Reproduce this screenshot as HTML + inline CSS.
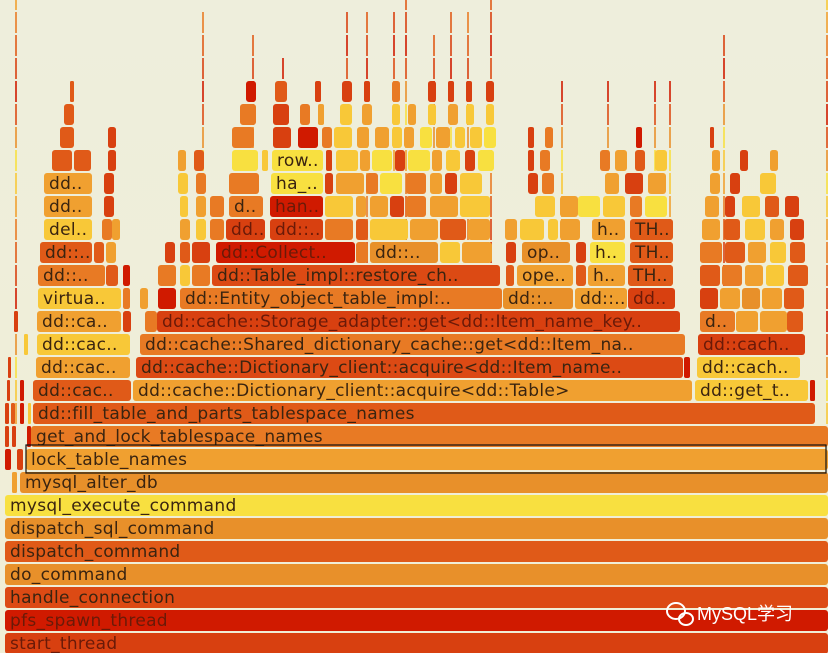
<!DOCTYPE html>
<html><head><meta charset="utf-8">
<style>
html,body{margin:0;padding:0;background:#eeeedd;}
svg{display:block;}
text{font-family:"DejaVu Sans","Liberation Sans",sans-serif;}
</style></head>
<body>
<svg id="fg" width="828" height="653" viewBox="0 0 828 653" xmlns="http://www.w3.org/2000/svg">
<defs><linearGradient id="bg" x1="0" y1="0" x2="0" y2="1"><stop offset="0" stop-color="#eeeedc"/><stop offset="1" stop-color="#f0eed6"/></linearGradient></defs>
<rect x="0" y="0" width="828" height="653" fill="url(#bg)"/>
<g id="frames"></g>
<g>
<ellipse cx="676" cy="611" rx="9" ry="8" fill="none" stroke="#fff" stroke-width="2"/>
<ellipse cx="686" cy="619" rx="7" ry="6" fill="none" stroke="#fff" stroke-width="2"/>
<text x="697" y="620" font-size="18" fill="#fff" style="font-family:'Liberation Sans','Noto Sans CJK SC',sans-serif">MySQL学习</text>
</g>
</svg>
<script>
// palette
const colors = ["#d01a00","#d84010","#e05a18","#e87a24","#f0a030","#f8c838","#f8e040","#e8902a","#dc4a14"];
// frames: [row, x, width, colorIdx, label]
const labeled = [
 [0,5,823,1,"start_thread"],
 [1,5,823,0,"pfs_spawn_thread"],
 [2,5,823,8,"handle_connection"],
 [3,5,823,7,"do_command"],
 [4,5,823,2,"dispatch_command"],
 [5,5,823,7,"dispatch_sql_command"],
 [6,5,823,6,"mysql_execute_command"],
 [7,12,5,4,""],[7,20,808,7,"mysql_alter_db"],
 [8,5,6,0,""],[8,17,6,1,""],[8,26,802,4,"lock_table_names"],
 [9,5,4,1,""],[9,12,4,1,""],[9,27,4,0,""],[9,31,797,3,"get_and_lock_tablespace_names"],
 [10,5,4,1,""],[10,11,4,2,""],[10,20,4,0,""],[10,28,3,5,""],[10,33,782,2,"dd::fill_table_and_parts_tablespace_names"],
 [11,7,3,1,""],[11,20,4,0,""],[11,33,98,2,"dd::cac.."],[11,133,559,4,"dd::cache::Dictionary_client::acquire<dd::Table>"],[11,695,113,5,"dd::get_t.."],[11,810,5,0,""],
 [12,8,3,1,""],[12,36,94,4,"dd::cac.."],[12,136,547,8,"dd::cache::Dictionary_client::acquire<dd::Item_name.."],[12,684,6,0,""],[12,697,103,5,"dd::cach.."],
 [13,24,4,5,""],[13,37,93,5,"dd::cac.."],[13,140,545,3,"dd::cache::Shared_dictionary_cache::get<dd::Item_na.."],[13,698,107,1,"dd::cach.."],
 [14,14,4,1,""],[14,37,84,4,"dd::ca.."],[14,123,8,1,""],[14,145,12,3,""],[14,157,523,1,"dd::cache::Storage_adapter::get<dd::Item_name_key.."],[14,700,35,3,"d.."],[14,736,22,4,""],[14,760,27,4,""],[14,787,16,2,""],
 [15,38,83,5,"virtua.."],[15,123,7,3,""],[15,140,8,4,""],[15,158,18,0,""],[15,180,322,3,"dd::Entity_object_table_impl:.."],[15,503,70,7,"dd::.."],[15,575,52,4,"dd::.."],[15,628,47,1,"dd.."],[15,700,18,1,""],[15,720,20,4,""],[15,742,18,7,""],[15,762,20,4,""],[15,784,20,2,""],
 [16,38,67,3,"dd::.."],[16,106,12,2,""],[16,123,7,0,""],[16,158,18,3,""],[16,180,10,5,""],[16,192,18,3,""],[16,212,288,8,"dd::Table_impl::restore_ch.."],[16,506,8,2,""],[16,517,56,4,"ope.."],[16,576,10,2,""],[16,588,37,4,"h.."],[16,628,45,2,"TH.."],[16,700,20,2,""],[16,722,20,3,""],[16,745,18,4,""],[16,766,18,5,""],[16,788,20,2,""],
 [17,40,52,2,"dd::.."],[17,94,10,2,""],[17,106,10,4,""],[17,165,10,1,""],[17,180,10,2,""],[17,192,18,1,""],[17,216,139,0,"dd::Collect.."],[17,356,12,3,""],[17,370,68,7,"dd::.."],[17,440,20,5,""],[17,462,30,4,""],[17,506,10,1,""],[17,522,48,7,"op.."],[17,576,10,1,""],[17,590,35,6,"h.."],[17,630,43,2,"TH.."],[17,700,22,3,""],[17,725,20,2,""],[17,748,18,4,""],[17,770,16,5,""],[17,790,15,2,""],
 [18,44,48,5,"del.."],[18,102,10,3,""],[18,112,8,4,""],[18,180,10,4,""],[18,196,10,5,""],[18,210,14,3,""],[18,226,39,1,"dd.."],[18,270,53,1,"dd::.."],[18,325,28,3,""],[18,356,12,2,""],[18,370,38,5,""],[18,410,28,4,""],[18,440,26,2,""],[18,468,22,4,""],[18,505,12,4,""],[18,520,24,5,""],[18,548,10,5,""],[18,560,20,4,""],[18,592,33,4,"h.."],[18,630,43,2,"TH.."],[18,702,18,4,""],[18,724,16,2,""],[18,745,20,5,""],[18,770,14,4,""],[18,790,14,1,""],
 [19,44,48,4,"dd.."],[19,104,10,1,""],[19,180,8,5,""],[19,196,10,4,""],[19,210,14,3,""],[19,229,34,3,"d.."],[19,270,53,0,"han.."],[19,325,28,5,""],[19,356,10,4,""],[19,370,18,4,""],[19,390,14,1,""],[19,406,20,3,""],[19,430,28,4,""],[19,460,30,5,""],[19,535,20,5,""],[19,560,18,4,""],[19,578,22,6,""],[19,603,22,5,""],[19,630,12,3,""],[19,645,22,6,""],[19,705,14,4,""],[19,725,10,1,""],[19,742,18,5,""],[19,765,14,2,""],[19,785,14,1,""],
 [20,44,48,4,"dd.."],[20,104,10,1,""],[20,178,10,5,""],[20,196,10,3,""],[20,229,30,3,""],[20,271,52,6,"ha_.."],[20,325,8,1,""],[20,336,28,4,""],[20,366,12,3,""],[20,380,22,6,""],[20,406,20,3,""],[20,430,12,4,""],[20,445,12,1,""],[20,460,22,5,""],[20,528,10,1,""],[20,542,12,3,""],[20,605,14,4,""],[20,625,18,1,""],[20,648,18,4,""],[20,710,10,4,""],[20,730,10,1,""],[20,760,16,5,""],
 [21,52,20,2,""],[21,74,17,2,""],[21,108,8,1,""],[21,178,8,4,""],[21,194,10,2,""],[21,232,26,6,""],[21,262,6,5,""],[21,272,51,6,"row.."],[21,326,6,1,""],[21,336,22,5,""],[21,360,10,4,""],[21,372,20,6,""],[21,395,10,1,""],[21,408,22,6,""],[21,432,10,4,""],[21,446,14,5,""],[21,465,10,1,""],[21,478,16,6,""],[21,528,6,1,""],[21,540,10,3,""],[21,600,10,3,""],[21,615,12,4,""],[21,635,10,2,""],[21,655,12,5,""],[21,712,8,4,""],[21,740,8,1,""],[21,770,8,4,""],
 [22,60,14,2,""],[22,108,8,1,""],[22,232,22,3,""],[22,273,18,1,""],[22,298,20,0,""],[22,322,10,3,""],[22,334,18,5,""],[22,357,12,4,""],[22,375,14,4,""],[22,392,10,5,""],[22,404,10,4,""],[22,420,12,6,""],[22,436,14,4,""],[22,455,10,5,""],[22,470,12,5,""],[22,484,12,6,""],[22,528,6,1,""],[22,545,8,3,""],[22,636,6,0,""],[22,710,4,1,""],
 [23,64,10,2,""],[23,240,16,3,""],[23,273,16,1,""],[23,300,10,3,""],[23,318,6,4,""],[23,340,12,5,""],[23,362,10,4,""],[23,392,8,5,""],[23,408,8,4,""],[23,428,8,5,""],[23,448,10,4,""],[23,466,8,5,""],[23,486,8,5,""],
 [24,70,4,2,""],[24,246,10,0,""],[24,275,12,2,""],[24,315,6,1,""],[24,342,10,1,""],[24,364,6,1,""],[24,392,8,3,""],[24,428,8,1,""],[24,448,6,1,""],[24,466,6,1,""],[24,486,8,1,""]
];
// thin spikes: [x, topRow, colorIdx]
const spikeX = [15,202,252,282,346,366,393,405,433,450,467,490,561,607,654,669,723,826];
const spikeTop = [28,27,26,25,27,27,27,28,26,27,27,28,24,24,24,24,26,28];
const spikeColor = [3,3,3,2,1,2,1,1,3,2,3,1,3,3,3,3,2,4];

const NS="http://www.w3.org/2000/svg";
const g=document.getElementById('frames');
function rowY(r){return 632-23*r;}
for(let i=0;i<spikeX.length;i++){
  for(let r=10;r<=spikeTop[i];r++){
    const s=document.createElementNS(NS,'rect');
    s.setAttribute('x',spikeX[i]);s.setAttribute('y',rowY(r)+1);
    s.setAttribute('width',2);s.setAttribute('height',21);
    s.setAttribute('fill',colors[(spikeColor[i]+r)%colors.length]);
    s.setAttribute('opacity','0.8');
    
    
    g.appendChild(s);
  }
}
labeled.forEach(f=>{
  const [r,x,w,c,label]=f;
  const el=document.createElementNS(NS,'rect');
  el.setAttribute('x',x);el.setAttribute('y',rowY(r)+1);
  el.setAttribute('width',w);el.setAttribute('height',21);
  el.setAttribute('rx',Math.min(3,w/3));
  el.setAttribute('fill',colors[c]);
  
  
  g.appendChild(el);
  if(label){
    const t=document.createElementNS(NS,'text');
    t.setAttribute('x',x+5);t.setAttribute('y',rowY(r)+17);
    t.setAttribute('font-size','17');
    t.setAttribute('letter-spacing','0.3');
    t.setAttribute('fill',c<=1?'#6a1a08':'#3a2410');
    t.textContent=label;
    
    
    g.appendChild(t);
  }
});
// selected frame outline
const sel=document.createElementNS(NS,'rect');
sel.setAttribute('x',26);sel.setAttribute('y',rowY(8)-3);
sel.setAttribute('width',800);sel.setAttribute('height',28);
sel.setAttribute('fill','none');sel.setAttribute('stroke','#111');sel.setAttribute('stroke-width','1.2');


g.appendChild(sel);
</script>
</body></html>
